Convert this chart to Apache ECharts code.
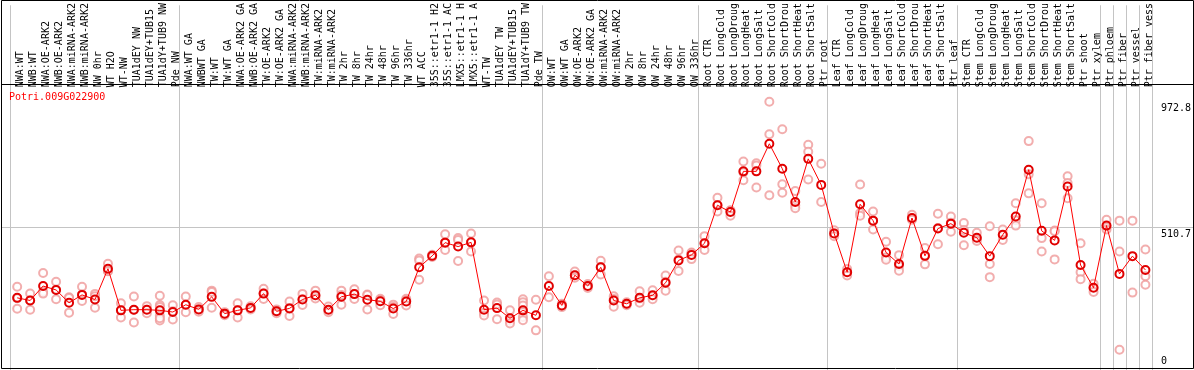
<!DOCTYPE html>
<html><head><meta charset="utf-8">
<script src="https://cdn.jsdelivr.net/npm/echarts@6/dist/echarts.min.js"></script>
<style>html,body{margin:0;padding:0;background:#fff}#c{width:1194px;height:370px}</style>
</head><body><div id="c"></div>
<script>
const geneId = 'Potri.009G022900';
const categories = [
  'NWA:WT','NWB:WT','NWA:OE-ARK2','NWB:OE-ARK2','NWA:miRNA-ARK2','NWB:miRNA-ARK2','NW 0hr','WT H2O','WT-NW','TUA1dEY NW','TUA1dEY+TUB15','TUA1dY+TUB9 NW','Pde NW',
  'NWA:WT GA','NWBWT GA','TW:WT','TW:WT GA','NWA:OE-ARK2 GA','NWB:OE-ARK2 GA','TW:OE-ARK2','TW:OE-ARK2 GA','NWA:miRNA-ARK2','NWB:miRNA-ARK2','TW:miRNA-ARK2','TW:miRNA-ARK2',
  'TW 2hr','TW 8hr','TW 24hr','TW 48hr','TW 96hr','TW 336hr','WT ACC','35S::etr1-1 H2','35S::etr1-1 AC','LMX5::etr1-1 H','LMX5::etr1-1 A','WT-TW','TUA1dEY TW','TUA1dEY+TUB15','TUA1dY+TUB9 TW','Pde TW',
  'OW:WT','OW:WT GA','OW:OE-ARK2','OW:OE-ARK2 GA','OW:miRNA-ARK2','OW:miRNA-ARK2','OW 2hr','OW 8hr','OW 24hr','OW 48hr','OW 96hr','OW 336hr',
  'Root CTR','Root LongCold','Root LongDroug','Root LongHeat','Root LongSalt','Root ShortCold','Root ShortDrou','Root ShortHeat','Root ShortSalt','Ptr root',
  'Leaf CTR','Leaf LongCold','Leaf LongDroug','Leaf LongHeat','Leaf LongSalt','Leaf ShortCold','Leaf ShortDrou','Leaf ShortHeat','Leaf ShortSalt','Ptr leaf',
  'Stem CTR','Stem LongCold','Stem LongDroug','Stem LongHeat','Stem LongSalt','Stem ShortCold','Stem ShortDrou','Stem ShortHeat','Stem ShortSalt','Ptr shoot','Ptr xylem',
  'Ptr phloem','Ptr fiber','Ptr vessel','Ptr fiber vess'
];
const meanValues = [
  261.6,252.0,304.5,290.2,243.7,272.3,255.5,367.4,216.2,218.7,218.7,216.2,210.2,
  236.6,219.8,265.2,204.4,216.2,225.2,277.0,212.7,223.4,255.5,270.9,218.7,
  265.5,275.2,254.8,249.1,222.7,248.4,372.4,413.9,461.8,447.5,462.8,218.7,224.4,187.6,216.2,198.4,
  304.5,234.1,343.8,304.5,372.4,252.0,240.2,261.6,270.9,316.3,397.4,417.4,
  459.3,597.6,572.6,720.2,720.2,820.2,729.8,609.4,765.6,671.2,
  495.0,354.5,601.1,541.5,426.0,384.2,551.1,413.9,512.9,530.7,
  497.5,479.6,412.8,490.4,556.8,726.2,504.6,470.0,665.5,380.6,298.4,
  523.6,348.5,412.8,362.8
];
const replicateValues = [
  [302.0,260.5,222.3],[277.0,252.0,218.7],[352.0,284.1,277.0],[319.9,291.3,256.6],[263.8,260.9,208.0],
  [302.0,273.4,250.2],[275.9,267.3,225.9],[384.9,358.1,359.2],[242.3,216.2,190.1],[266.3,218.0,172.3],
  [231.6,218.7,205.5],[269.1,235.9,228.0,196.6,179.4,187.6],[234.8,212.7,183.0],
  [266.3,235.9,209.1],[228.7,219.8,210.9],[287.7,283.1,225.9],[209.8,204.4,198.4],[242.3,216.2,190.1],
  [231.2,225.2,219.1],[294.9,277.0,257.3],[219.8,212.7,205.5],[248.4,225.2,195.9],[275.9,255.5,235.9],
  [287.7,268.1,259.1],[230.5,216.2,209.1],[287.7,271.6,236.6],[293.1,275.2,257.3],[273.4,271.6,219.1],
  [258.0,253.8,235.2],[237.0,228.0,203.0],[258.0,253.0,234.1],[404.6,397.4,327.0],[418.0,414.0,410.0],
  [492.5,462.0,435.3],[478.2,471.1,394.9],[495.0,462.8,429.6],[252.0,207.3,197.3],[244.8,237.7,184.1],
  [216.2,178.7,168.7],[256.6,245.9,234.1,210.2,192.3,180.5],[254.5,143.7],
  [340.2,263.8],[240.2,234.1,228.0],[357.4,343.1,334.2],[311.7,304.5,297.4],[396.0,373.5,346.0],
  [267.3,257.3,229.5],[245.9,240.2,235.2],[285.2,257.3,243.7],[288.8,268.1,256.6],[342.4,319.9,287.7],
  [433.2,400.3,359.2],[426.0,423.5,402.1],
  [485.4,457.5,435.3],[624.7,598.6,574.7],[578.3,577.9,559.3],[755.9,716.6,688.0],[749.8,741.6,661.9],
  [972.8,854.9,633.3],[872.8,673.7,642.6],[648.7,596.9,586.9],[816.7,791.6,690.5],[747.7,609.4],
  [506.8,495.0,485.4],[366.3,355.6,342.4],[672.6,569.0,559.3],[574.7,541.5,509.3],[465.3,408.2,399.6],
  [416.4,377.1,360.3],[562.9,548.6,545.0],[442.5,414.6,383.1],[566.5,514.7,455.7],[556.8,534.3,501.1],
  [533.2,507.5,452.1],[497.5,475.3,467.5],[521.1,384.2,336.7],[509.3,489.6,471.1],[604.7,543.2,523.6],
  [829.9,709.4,640.5],[604.7,478.2,429.6],[505.7,503.2,401.0],[702.3,678.3,622.6],[459.3,354.5,329.5],
  [312.7,298.4,283.1],
  [545.0,518.2,509.3],[541.5,429.6,73.3],[541.5,280.6],[436.7,340.2,309.2]
];
const yTickValues = [0, 510.7, 972.8];
const gridLineValues = [510.7];
const groupStarts = [0, 13, 41, 53, 63, 73, 84, 85, 86, 87];
const yMax = 1322.4;

const mono = 'DejaVu Sans Mono';
const scatterData = [];
replicateValues.forEach((arr, i) => arr.forEach(v => scatterData.push([i, v])));

const chart = echarts.init(document.getElementById('c'), null, {renderer: 'canvas'});
chart.setOption({
  animation: false,
  backgroundColor: '#fff',
  title: {
    text: geneId, left: 9, top: 92, padding: 0,
    textStyle: {color: '#ff0000', fontSize: 10, fontWeight: 'normal', fontFamily: mono}
  },
  grid: [
    {left: 10.7, right: 38, top: 0, bottom: -0.5},
    {left: 1, right: 1, top: 0, bottom: -0.5}
  ],
  xAxis: [
    {
      type: 'category', gridIndex: 0, data: categories, position: 'top', offset: -84,
      boundaryGap: true,
      axisLine: {show: false}, axisTick: {show: false},
      axisLabel: {interval: 0, rotate: 90, margin: 2, color: '#000', fontSize: 10, fontFamily: mono,
                  verticalAlign: 'top', lineHeight: 7},
      splitLine: {show: true, interval: (idx) => groupStarts.indexOf(idx) >= 0,
                  lineStyle: {color: '#c4c4c4', width: 1}}
    },
    {type: 'value', gridIndex: 1, show: false, min: 0, max: 1}
  ],
  yAxis: [
    {
      type: 'value', gridIndex: 0, position: 'right', min: 0, max: yMax,
      axisLine: {show: false}, axisTick: {show: false}, splitLine: {show: false},
      axisLabel: {
        customValues: yTickValues, margin: 9, color: '#000', fontSize: 10, fontFamily: mono,
        formatter: (v) => v === yTickValues[2] ? '{t|' + v + '}' : (v === yTickValues[0] ? '{b|' + v + '}' : '{m|' + v + '}'),
        rich: {
          t: {padding: [14, 0, 0, 0], fontSize: 10, fontFamily: mono, color: '#000'},
          m: {padding: [11, 0, 0, 0], fontSize: 10, fontFamily: mono, color: '#000'},
          b: {padding: [0, 0, 17, 0], fontSize: 10, fontFamily: mono, color: '#000'}
        }
      }
    },
    {
      type: 'value', gridIndex: 1, min: 0, max: yMax,
      axisLine: {show: false}, axisLabel: {show: false},
      axisTick: {show: false, customValues: gridLineValues},
      splitLine: {show: true, lineStyle: {color: '#c4c4c4', width: 1}}
    }
  ],
  series: [
    {
      type: 'scatter', xAxisIndex: 0, yAxisIndex: 0, data: scatterData,
      symbol: 'emptyCircle', symbolSize: 8,
      itemStyle: {color: '#ef9a9a', borderColor: '#ef9a9a', borderWidth: 1.3},
      z: 2
    },
    {
      type: 'line', xAxisIndex: 0, yAxisIndex: 0, data: meanValues,
      symbol: 'circle', symbolSize: 8, showAllSymbol: true,
      lineStyle: {color: '#ff0000', width: 1},
      itemStyle: {color: 'rgba(0,0,0,0)', borderColor: '#e00000', borderWidth: 2},
      z: 3
    }
  ],
  graphic: [
    {type: 'rect', silent: true, z: 100, shape: {x: 1.5, y: 0.5, width: 1192, height: 368},
     style: {fill: 'none', stroke: '#000', lineWidth: 1}},
    {type: 'line', silent: true, z: 100, shape: {x1: 1.5, y1: 84.5, x2: 1193.5, y2: 84.5},
     style: {stroke: '#000', lineWidth: 1}}
  ]
});
</script>
</body></html>
